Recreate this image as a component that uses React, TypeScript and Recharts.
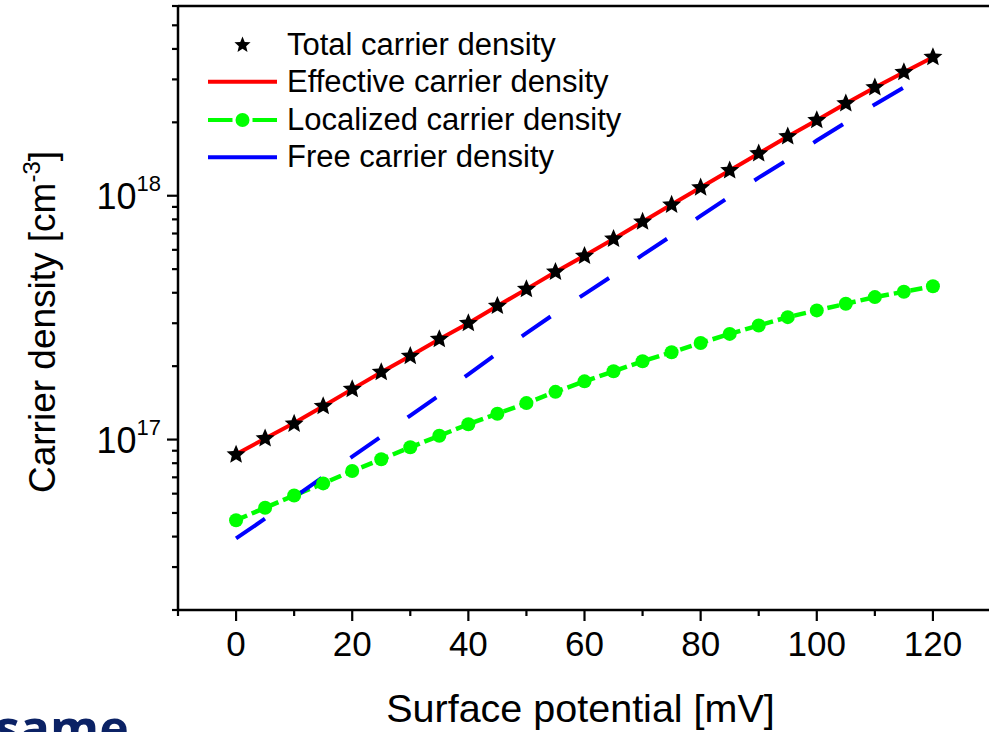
import React from 'react';
import { ComposedChart, Line, XAxis, YAxis, Legend, ReferenceLine } from 'recharts';

// ---- data ----
const potentials = [0, 5, 10, 15, 20, 25, 30, 35, 40, 45, 50, 55, 60, 65, 70, 75, 80, 85, 90, 95, 100, 105, 110, 115, 120];
const totalDensity = [8.67e16, 1.01e17, 1.16e17, 1.37e17, 1.61e17, 1.89e17, 2.2e17, 2.58e17, 3.0e17, 3.53e17, 4.14e17, 4.87e17, 5.66e17, 6.65e17, 7.82e17, 9.18e17, 1.08e18, 1.27e18, 1.49e18, 1.75e18, 2.04e18, 2.39e18, 2.78e18, 3.21e18, 3.7e18];
const effectiveDensity = [8.7e16, 1.01e17, 1.17e17, 1.37e17, 1.61e17, 1.89e17, 2.2e17, 2.58e17, 3.0e17, 3.53e17, 4.14e17, 4.87e17, 5.68e17, 6.65e17, 7.82e17, 9.2e17, 1.08e18, 1.27e18, 1.49e18, 1.75e18, 2.04e18, 2.39e18, 2.78e18, 3.21e18, 3.7e18];
const localizedDensity = [4.67e16, 5.25e16, 5.9e16, 6.61e16, 7.43e16, 8.3e16, 9.3e16, 1.036e17, 1.156e17, 1.276e17, 1.411e17, 1.569e17, 1.733e17, 1.905e17, 2.094e17, 2.28e17, 2.49e17, 2.713e17, 2.938e17, 3.178e17, 3.386e17, 3.604e17, 3.84e17, 4.038e17, 4.251e17];
const freeDensity = [3.93e16, 4.74e16, 5.79e16, 7.04e16, 8.51e16, 1.03e17, 1.255e17, 1.518e17, 1.851e17, 2.259e17, 2.731e17, 3.3e17, 3.95e17, 4.73e17, 5.72e17, 6.85e17, 8.27e17, 9.91e17, 1.186e18, 1.406e18, 1.684e18, 1.997e18, 2.369e18, 2.782e18, 3.27e18];

const seriesNames = ['Total carrier density', 'Effective carrier density', 'Localized carrier density', 'Free carrier density'];

const xDomain = [-10, 130];
const xTicks = [-10, 0, 10, 20, 30, 40, 50, 60, 70, 80, 90, 100, 110, 120, 130];
const xMajorTicks = [0, 20, 40, 60, 80, 100, 120];

const yDomain = [2e16, 6e18];
const yTicks = [2e16, 3e16, 4e16, 5e16, 6e16, 7e16, 8e16, 9e16, 1e17, 2e17, 3e17, 4e17, 5e17, 6e17, 7e17, 8e17, 9e17, 1e18, 2e18, 3e18, 4e18, 5e18, 6e18];
const yMajorTicks = [1e17, 1e18];
const yMajorExponents = ['17', '18'];

const xTitle = 'Surface potential [mV]';
const yTitleMain = 'Carrier density [cm';
const yTitleSup = '-3';
const yTitleEnd = ']';
const cornerText = 'same';

const rows = potentials.map((x, i) => ({
  x,
  total: totalDensity[i],
  effective: effectiveDensity[i],
  localized: localizedDensity[i],
  free: freeDensity[i],
}));

const FONT = '"Liberation Sans", Arial, Helvetica, sans-serif';
const RED = '#ff0000';
const GREEN = '#00ff00';
const BLUE = '#0000ff';

function starPoints(cx: number, cy: number, R: number) {
  const r = R * 0.45;
  const pts: string[] = [];
  for (let k = 0; k < 10; k++) {
    const ang = -Math.PI / 2 + (k * Math.PI) / 5;
    const rad = k % 2 === 0 ? R : r;
    pts.push(`${cx + rad * Math.cos(ang)},${cy + rad * Math.sin(ang)}`);
  }
  return pts.join(' ');
}

const StarDot = (props: any) => {
  const { cx, cy, index } = props;
  if (cx == null || cy == null) return <g key={`s-${index}`} />;
  return <polygon key={`s-${index}`} points={starPoints(cx, cy, 10)} fill="#000" />;
};

const XTick = (props: any) => {
  const { x, y, payload } = props;
  const v = payload.value;
  const major = xMajorTicks.includes(v);
  return (
    <g>
      <line x1={x} x2={x} y1={y} y2={y + (major ? 11 : 6)} stroke="#000" strokeWidth={2.2} />
      {major && (
        <text x={x} y={y + 46} textAnchor="middle" fontFamily={FONT} fontSize={35} fill="#000">
          {v}
        </text>
      )}
    </g>
  );
};

const YTick = (props: any) => {
  const { x, y, payload } = props;
  const v = payload.value;
  const mi = yMajorTicks.findIndex((m) => Math.abs(m - v) / m < 1e-6);
  const major = mi >= 0;
  return (
    <g>
      <line x1={x - (major ? 11 : 6)} x2={x} y1={y} y2={y} stroke="#000" strokeWidth={2.2} />
      {major && (
        <text x={x - 17} y={y + 13} textAnchor="end" fontFamily={FONT} fontSize={36} fill="#000">
          10
          <tspan dy={-18} fontSize={22}>
            {yMajorExponents[mi]}
          </tspan>
        </text>
      )}
    </g>
  );
};

const XTitle = (props: any) => {
  const vb = props.viewBox || { x: 178, y: 610, width: 813, height: 122 };
  return (
    <text x={vb.x + vb.width / 2 - 4} y={vb.y + 112} textAnchor="middle" fontFamily={FONT} fontSize={39.5} fill="#000">
      {xTitle}
    </text>
  );
};

const YTitle = () => {
  const cx = 55;
  const cy = 322;
  return (
    <text transform={`rotate(-90, ${cx}, ${cy})`} x={cx} y={cy} textAnchor="middle" fontFamily={FONT} fontSize={37} fill="#000">
      {yTitleMain}
      <tspan dy={-15} fontSize={24}>
        {yTitleSup}
      </tspan>
      <tspan dy={15}>{yTitleEnd}</tspan>
    </text>
  );
};

const LegendContent = () => {
  const rowsY = [25, 61.7, 100, 137.3];
  const lx1 = 8;
  const lx2 = 77;
  const mid = (lx1 + lx2) / 2;
  return (
    <svg width={460} height={165} style={{ display: 'block', overflow: 'visible' }}>
      <polygon points={starPoints(mid, rowsY[0], 8.5)} fill="#000" />
      <line x1={lx1} x2={lx2} y1={rowsY[1]} y2={rowsY[1]} stroke={RED} strokeWidth={4} />
      <line x1={lx1} x2={mid - 10} y1={rowsY[2]} y2={rowsY[2]} stroke={GREEN} strokeWidth={4} />
      <line x1={mid + 10} x2={lx2} y1={rowsY[2]} y2={rowsY[2]} stroke={GREEN} strokeWidth={4} />
      <circle cx={mid} cy={rowsY[2]} r={7} fill={GREEN} />
      <line x1={lx1} x2={lx2} y1={rowsY[3]} y2={rowsY[3]} stroke={BLUE} strokeWidth={4} />
      {seriesNames.map((n, i) => (
        <text key={n} x={87} y={rowsY[i] + 10} fontFamily={FONT} fontSize={31} fill="#000">
          {n}
        </text>
      ))}
    </svg>
  );
};

export default function App() {
  return (
    <div style={{ position: 'fixed', left: 0, top: 0, width: 989, height: 732, overflow: 'hidden', background: '#fff' }}>
      <ComposedChart width={1000} height={732} data={rows} margin={{ top: 6, right: 9, bottom: 0, left: 0 }}>
        <XAxis
          dataKey="x"
          type="number"
          domain={xDomain}
          ticks={xTicks}
          interval={0}
          allowDataOverflow
          height={122}
          tickSize={0}
          tickMargin={0}
          tickLine={false}
          axisLine={{ stroke: '#000', strokeWidth: 2.5 }}
          tick={<XTick />}
          label={<XTitle />}
        />
        <YAxis
          type="number"
          scale="log"
          domain={yDomain}
          ticks={yTicks}
          interval={0}
          allowDataOverflow
          width={178}
          tickSize={0}
          tickMargin={0}
          tickLine={false}
          axisLine={{ stroke: '#000', strokeWidth: 2.5 }}
          tick={<YTick />}
          label={<YTitle />}
        />
        <ReferenceLine y={6e18} stroke="#000" strokeWidth={2.5} />
        <ReferenceLine x={130} stroke="#000" strokeWidth={2.5} />
        <Line dataKey="total" name={seriesNames[0]} stroke="none" dot={StarDot} activeDot={false} isAnimationActive={false} />
        <Line dataKey="effective" name={seriesNames[1]} stroke={RED} strokeWidth={4} dot={false} activeDot={false} isAnimationActive={false} />
        <Line
          dataKey="localized"
          name={seriesNames[2]}
          stroke={GREEN}
          strokeWidth={4.5}
          strokeDasharray="12 5"
          dot={{ r: 7, fill: GREEN, stroke: 'none', strokeWidth: 0 }}
          activeDot={false}
          isAnimationActive={false}
        />
        <Line dataKey="free" name={seriesNames[3]} stroke={BLUE} strokeWidth={4} strokeDasharray="35 35" dot={false} activeDot={false} isAnimationActive={false} />
        <Legend
          content={<LegendContent />}
          layout="vertical"
          align="center"
          verticalAlign="middle"
          wrapperStyle={{ position: 'absolute', left: 200, top: 20, width: 460, height: 165, margin: 0, padding: 0 }}
        />
      </ComposedChart>
      <svg width={989} height={732} style={{ position: 'absolute', left: 0, top: 0, pointerEvents: 'none' }}>
        <text x={-5} y={746} fontFamily='"Open Sans", "DejaVu Sans", sans-serif' fontWeight={700} fontSize={50} fill="#0b2265">
          {cornerText}
        </text>
      </svg>
    </div>
  );
}
